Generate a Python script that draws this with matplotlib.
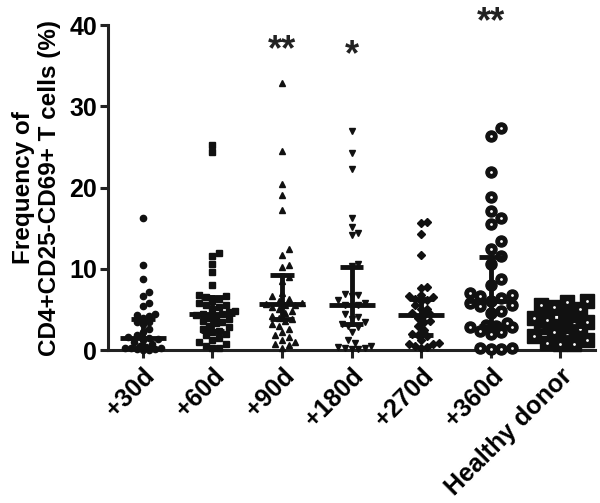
import matplotlib
matplotlib.use("Agg")
import matplotlib.pyplot as plt
import numpy as np

plt.rcParams['font.family'] = ['Liberation Sans', 'DejaVu Sans']
plt.rcParams['font.weight'] = 'bold'

groups = ['+30d', '+60d', '+90d', '+180d', '+270d', '+360d', 'Healthy donor']

d30 = [16.3, 10.5, 8.7, 7.2, 6.7, 5.8, 5.4, 4.4, 4.3, 4.2, 4.0, 3.5, 3.4, 3.2,
       2.6, 2.2, 1.8, 1.6, 1.5, 1.4, 1.2, 1.0, 0.8, 0.5, 0.4, 0.3, 0.2, 0.2,
       0.1, 0.1, 0.0, 0.0]
d60 = [25.3, 24.4, 12.0, 11.6, 10.6, 9.6, 8.0, 6.8, 6.6, 6.5, 6.3, 6.0, 5.8,
       5.6, 5.5, 5.3, 5.0, 4.8, 4.7, 4.5, 4.5, 4.3, 4.2, 4.0, 3.8, 3.6, 3.5,
       3.3, 3.0, 2.8, 2.6, 2.4, 2.2, 2.0, 1.8, 1.5, 1.2, 1.0, 0.8, 0.5, 0.3, 0.2]
d90 = [32.9, 24.5, 20.4, 19.1, 17.3, 12.4, 11.7, 10.5, 10.2, 9.0, 8.5, 7.0,
       6.6, 6.3, 6.0, 5.8, 5.7, 5.6, 5.5, 5.3, 5.0, 4.8, 4.6, 4.2, 4.0, 3.8,
       3.6, 3.2, 3.0, 2.6, 2.2, 1.8, 1.6, 1.3, 1.0, 0.8, 0.6, 0.3]
d180 = [27.0, 24.3, 22.3, 16.2, 15.2, 14.4, 14.2, 10.6, 10.3, 6.9, 6.8, 6.7,
        6.2, 5.8, 5.6, 5.5, 5.4, 4.5, 4.1, 3.8, 3.5, 3.2, 3.0, 2.8, 2.2, 1.2,
        0.9, 0.5, 0.4, 0.3, 0.2, 0.1, 0.1]
d270 = [15.8, 15.6, 14.3, 11.7, 7.8, 7.6, 6.8, 6.6, 6.5, 6.3, 6.2, 6.0, 5.5,
        5.1, 5.0, 4.6, 4.4, 4.3, 4.0, 3.6, 3.4, 3.0, 2.5, 2.0, 1.9, 1.7, 1.2,
        0.9, 0.8, 0.7, 0.5, 0.4, 0.2]
d360 = [27.4, 26.4, 21.9, 18.9, 17.1, 16.2, 15.5, 13.4, 12.4, 11.6, 10.6, 8.7,
        8.0, 7.0, 6.8, 6.6, 6.4, 6.0, 5.8, 5.6, 5.4, 4.8, 4.6, 3.3, 3.1, 3.0,
        2.9, 2.8, 2.3, 2.2, 2.0, 0.2, 0.2, 0.1, 0.1]
dhd = [6.1, 5.9, 5.6, 5.3, 5.1, 4.6, 3.9, 3.7, 3.4, 3.2, 3.0, 2.8, 2.6,
       2.2, 1.9, 1.7, 1.2, 0.9, 0.8, 0.7]
data = [d30, d60, d90, d180, d270, d360, dhd]

# median and interquartile range
medians = [1.5, 4.4, 5.7, 5.6, 4.3, 6.0, 3.0]
q1 = [0.3, 2.3, 3.8, 3.2, 1.8, 3.0, 1.6]
q3 = [3.8, 6.5, 9.2, 10.2, 6.3, 11.4, 4.6]

stars = ['', '', '**', '*', '', '**', '']
star_y = [0, 0, 36.8, 36.2, 0, 40.3, 0]

markers = ['o', 's', '^', 'v', 'D', 'o', 's']
msizes = [4.5, 5, 5, 5, 4.5, 8, 10]
half_width = [0.34, 0.34, 0.34, 0.34, 0.34, 0.36, 0.42]

fig = plt.figure(figsize=(6, 5.03), dpi=100)
ax = fig.add_axes([0.18, 0.304, 0.812, 0.646])
ax.set_xlim(-0.5, 6.5)
ax.set_ylim(0, 40)

# pixel scales, used for the swarm layout
px_x = ax.get_window_extent().width / 7.0
px_y = ax.get_window_extent().height / 40.0


def swarm(vals, diam, limit):
    ys = np.asarray(vals) * px_y
    order = np.argsort(ys)
    placed = []
    offs = np.zeros(len(ys))
    step = diam * 0.5
    cand = [0.0]
    k = 1
    while k * step <= limit:
        cand += [k * step, -k * step]
        k += 1
    for i in order:
        y = ys[i]
        best, best_d = 0.0, -1.0
        for c in cand:
            dmin = min([np.hypot(c - px, y - py) for px, py in placed] + [1e9])
            if dmin >= diam:
                best = c
                break
            if dmin > best_d:
                best, best_d = c, dmin
        placed.append((best, y))
        offs[i] = best
    return offs / px_x


for i, vals in enumerate(data):
    diam = msizes[i] * 100 / 72.0
    xs = i + swarm(vals, diam * 0.95, half_width[i] * px_x)
    ax.plot(xs, vals, linestyle='none', marker=markers[i], ms=msizes[i],
            color='#111111', mec='#111111', clip_on=False, zorder=3)
    if i >= 5:
        ax.plot(xs, vals, linestyle='none', marker='o', ms=2,
                color='white', mec='none', clip_on=False, zorder=4)
    # median + IQR
    ax.plot([i - 0.33, i + 0.33], [medians[i]] * 2, color='#111111', lw=3.5,
            zorder=5, solid_capstyle='butt')
    ax.plot([i - 0.17, i + 0.17], [q1[i]] * 2, color='#111111', lw=3.5,
            zorder=5, solid_capstyle='butt')
    ax.plot([i - 0.17, i + 0.17], [q3[i]] * 2, color='#111111', lw=3.5,
            zorder=5, solid_capstyle='butt')
    ax.plot([i, i], [q1[i], q3[i]], color='#111111', lw=3.5, zorder=5)
    if stars[i]:
        ax.text(i, star_y[i], stars[i], ha='center', va='center',
                fontsize=26, fontweight='bold', color='#222222')

ax.spines['top'].set_visible(False)
ax.spines['right'].set_visible(False)
for s in ('left', 'bottom'):
    ax.spines[s].set_linewidth(2.2)
    ax.spines[s].set_color('#222222')

ax.set_yticks([0, 10, 20, 30, 40])
ax.set_xticks(range(len(groups)))
ax.set_xticklabels(groups, rotation=45, ha='right', rotation_mode='anchor')
ax.tick_params(axis='both', width=2.2, length=6, color='#222222',
               labelsize=18)
ax.tick_params(axis='y', pad=2)
ax.tick_params(axis='x', pad=4)
for lab in ax.get_xticklabels() + ax.get_yticklabels():
    lab.set_fontweight('bold')

ax.set_ylabel('Frequency of\nCD4+CD25-CD69+ T cells (%)', fontsize=17.5,
              fontweight='bold', linespacing=1.15)
ax.yaxis.set_label_coords(-0.097, 0.5)

fig.savefig('out.png', dpi=100)
